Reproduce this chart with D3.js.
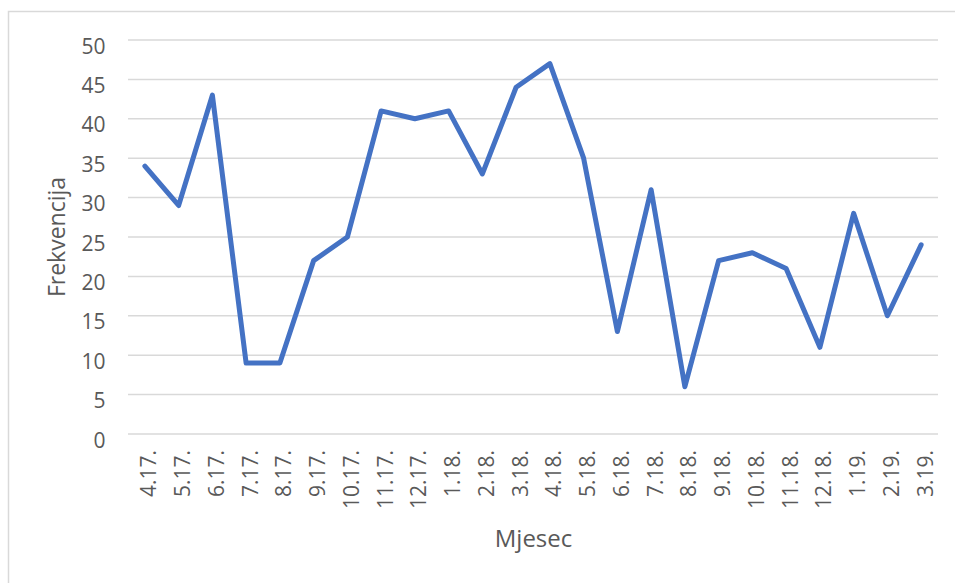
<!DOCTYPE html>
<html><head><meta charset="utf-8">
<script src="https://cdn.jsdelivr.net/npm/d3@7"></script>
<style>body{margin:0;background:#fff;}svg{display:block;font-family:"Open Sans",sans-serif;}svg text{font-family:"Open Sans",sans-serif;}</style>
</head><body>
<svg id="c" width="955" height="583"></svg>
<script>
const categories = ["4.17.","5.17.","6.17.","7.17.","8.17.","9.17.","10.17.","11.17.","12.17.","1.18.","2.18.","3.18.","4.18.","5.18.","6.18.","7.18.","8.18.","9.18.","10.18.","11.18.","12.18.","1.19.","2.19.","3.19."];
const values = [34,29,43,9,9,22,25,41,40,41,33,44,47,35,13,31,6,22,23,21,11,28,15,24];
const yTicks = [0,5,10,15,20,25,30,35,40,45,50];

const svg = d3.select("#c");
svg.append("rect").attr("x",8.5).attr("y",11.5).attr("width",960).attr("height",590)
  .attr("fill","#fff").attr("stroke","#d9d9d9").attr("stroke-width",1.5);

const x = d3.scaleBand().domain(categories).range([128,938]);
const y = d3.scaleLinear().domain([0,50]).range([434,40]);

const grid = svg.append("g");
grid.selectAll("line").data(yTicks).join("line")
  .attr("x1",128).attr("x2",938).attr("y1",d=>y(d)).attr("y2",d=>y(d))
  .attr("stroke","#d9d9d9").attr("stroke-width",1.5);

const yAxis = d3.axisLeft(y).tickValues(yTicks).tickSize(0).tickPadding(0);
const gy = svg.append("g").attr("transform","translate(105.5,0)").call(yAxis);
gy.attr("font-family",null);
gy.select(".domain").remove();
gy.selectAll("text").attr("fill","#595959").style("font-family","'Open Sans',sans-serif").style("font-size","21px").attr("dy","0").attr("y",13);

const xAxis = d3.axisBottom(x).tickSize(0).tickPadding(0);
const gx = svg.append("g").attr("transform","translate(0,450)").call(xAxis);
gx.attr("font-family",null);
gx.select(".domain").remove();
gx.selectAll("text").attr("fill","#595959").style("font-family","'Open Sans',sans-serif").style("font-size","21px")
  .attr("transform","translate(11.5,0) rotate(-90)").attr("text-anchor","end").attr("x",0).attr("y",0).attr("dy","0");

const line = d3.line().x((d,i)=>x(categories[i])+x.bandwidth()/2).y(d=>y(d));
svg.append("path").datum(values).attr("d",line).attr("fill","none")
  .attr("stroke","#4472C4").attr("stroke-width",5).attr("stroke-linejoin","round").attr("stroke-linecap","round");

svg.append("text").attr("transform","translate(65,237) rotate(-90)").attr("text-anchor","middle")
  .attr("fill","#595959").style("font-size","23px").text("Frekvencija");
svg.append("text").attr("x",533.5).attr("y",547).attr("text-anchor","middle")
  .attr("fill","#595959").style("font-size","24px").text("Mjesec");
</script>
</body></html>
